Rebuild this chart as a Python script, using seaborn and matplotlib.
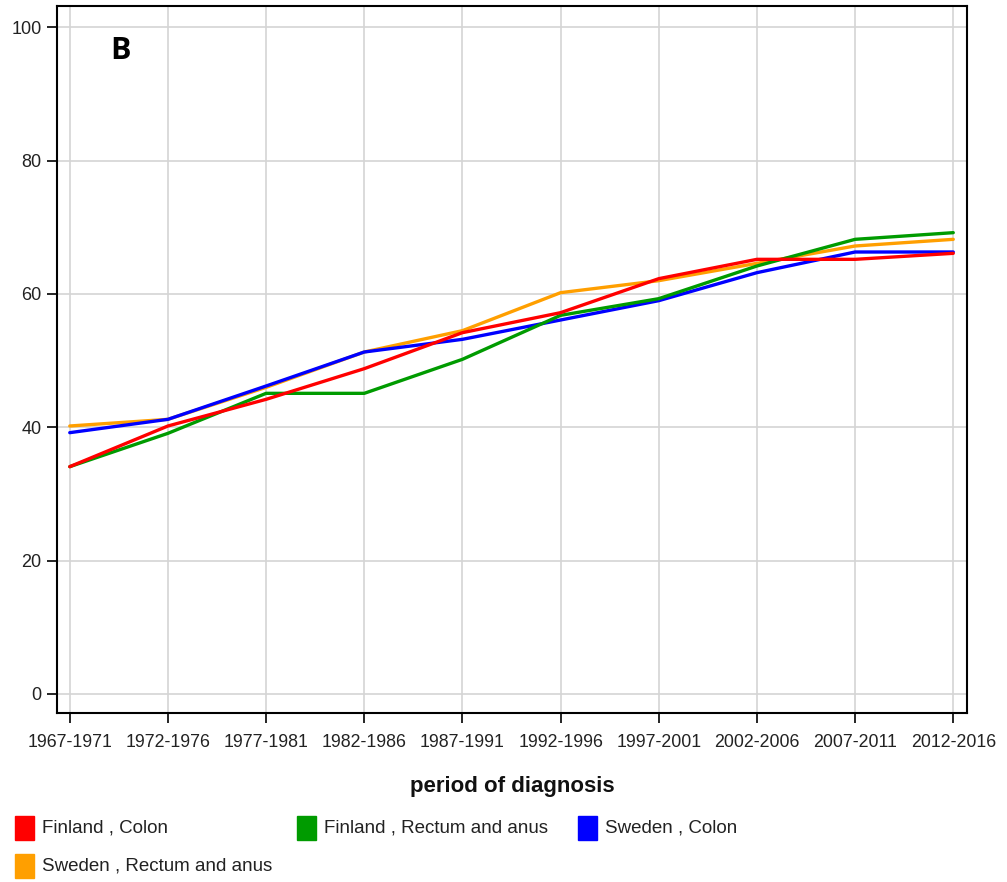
import numpy as np
import pandas as pd
import matplotlib
matplotlib.use("Agg")
import matplotlib.pyplot as plt
from matplotlib.patches import Rectangle
import seaborn as sns

periods = ["1967-1971", "1972-1976", "1977-1981", "1982-1986", "1987-1991",
           "1992-1996", "1997-2001", "2002-2006", "2007-2011", "2012-2016"]
finland_colon = [34.1, 40.2, 44.2, 48.8, 54.2, 57.2, 62.3, 65.2, 65.2, 66.1]
finland_rectum = [34.1, 39.1, 45.1, 45.1, 50.2, 56.8, 59.3, 64.2, 68.2, 69.2]
sweden_colon = [39.2, 41.2, 46.2, 51.3, 53.2, 56.1, 59.0, 63.2, 66.3, 66.3]
sweden_rectum = [40.2, 41.2, 46.0, 51.3, 54.5, 60.2, 62.0, 64.6, 67.2, 68.2]

series_names = ["Finland , Colon", "Finland , Rectum and anus",
                "Sweden , Colon", "Sweden , Rectum and anus"]
series_vals = [finland_colon, finland_rectum, sweden_colon, sweden_rectum]
colors = ["#FF0000", "#009B00", "#0000FF", "#FF9F00"]

rows = []
for name, vals in zip(series_names, series_vals):
    for i, v in enumerate(vals):
        rows.append({"idx": i, "value": v, "series": name})
df = pd.DataFrame(rows)

sns.set_theme(style="whitegrid")
font = ["Liberation Sans", "DejaVu Sans"]

fig = plt.figure(figsize=(10.07, 8.82), dpi=100)
ax = fig.add_axes([57 / 1007, 1 - 713 / 882, 910 / 1007, 707 / 882])

# draw order: first series ends up on top
sns.lineplot(data=df, x="idx", y="value", hue="series", hue_order=series_names[::-1],
             palette=dict(zip(series_names, colors)), linewidth=2.4, legend=False, ax=ax)

ax.set_xlim(-0.13, 9.14)
ax.set_ylim(-2.85, 103.2)
ax.set_xticks(range(len(periods)))
ax.set_xticklabels(periods, fontfamily=font, fontsize=12.8, color="#222222")
ax.set_yticks([0, 20, 40, 60, 80, 100])
ax.set_yticklabels(["0", "20", "40", "60", "80", "100"], fontfamily=font,
                   fontsize=13, color="#222222")
ax.tick_params(axis="both", direction="out", length=7, width=1.2, color="black",
               bottom=True, left=True, pad=4)
ax.tick_params(axis="x", pad=8)
ax.grid(True, color="#d4d4d4", linewidth=1.2)
for s in ax.spines.values():
    s.set_color("black")
    s.set_linewidth(1.5)
    s.set_visible(True)

ax.set_xlabel("period of diagnosis", fontfamily=font, fontsize=16,
              fontweight="bold", labelpad=18, color="#111111")
ax.set_ylabel("")

ax.text(0.058, 0.925, "B", transform=ax.transAxes, fontsize=22,
        fontweight="bold", color="black", fontfamily=["Open Sans", "DejaVu Sans"])

# legend at the bottom, squares + labels
leg_pos = [(15, 828), (297, 828), (578, 828), (15, 866)]
for (px, py), name, c in zip(leg_pos, series_names, colors):
    fig.patches.append(Rectangle((px / 1007, 1 - (py + 12) / 882), 19 / 1007, 24 / 882,
                                 transform=fig.transFigure, color=c))
    fig.text((px + 27) / 1007, 1 - py / 882, name, fontfamily=font,
             fontsize=13.5, va="center", ha="left", color="#222222")

fig.savefig("out.png", dpi=100)
